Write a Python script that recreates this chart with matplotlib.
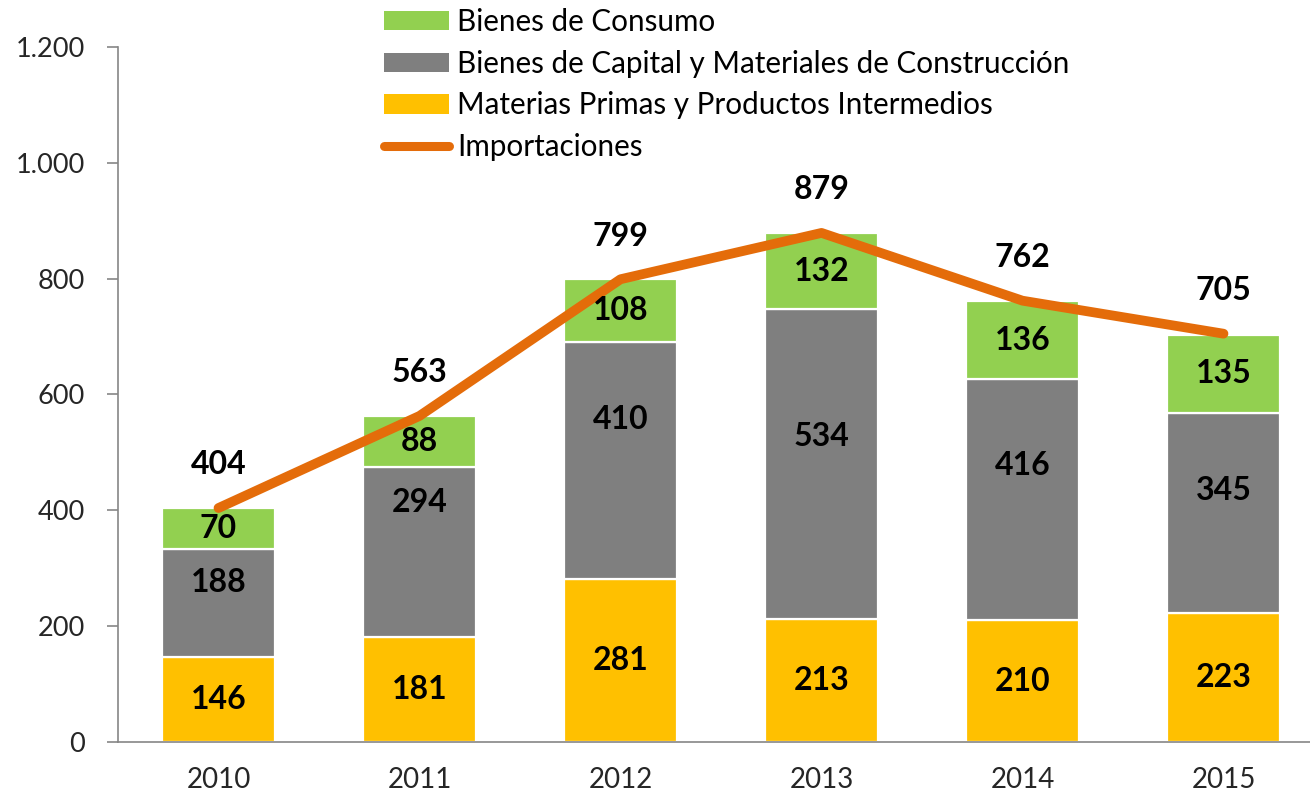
import numpy as np
import matplotlib.pyplot as plt
from matplotlib.patches import Patch
from matplotlib.lines import Line2D

plt.rcParams['font.family'] = ['Lato', 'DejaVu Sans']

# Data (millones)
years = ['2010', '2011', '2012', '2013', '2014', '2015']
materias_primas = [146, 181, 281, 213, 210, 223]
bienes_capital = [188, 294, 410, 534, 416, 345]
bienes_consumo = [70, 88, 108, 132, 136, 135]
importaciones = [404, 563, 799, 879, 762, 705]

labels = ['Bienes de Consumo',
          'Bienes de Capital y Materiales de Construcción',
          'Materias Primas y Productos Intermedios',
          'Importaciones']

# label heights for the grey segment (moved up by hand in the original)
gray_label_y = [275, 413, 556, 528, 478, 435]

c_yellow = '#FFC000'
c_gray = '#7F7F7F'
c_green = '#92D050'
c_orange = '#E46C0A'

fig = plt.figure(figsize=(13.10, 7.98), dpi=100)
ax = fig.add_axes([118 / 1310, 56 / 798, 1206 / 1310, 695 / 798])

x = np.arange(len(years))
w = 0.56
mp = np.array(materias_primas)
bc = np.array(bienes_capital)
bs = np.array(bienes_consumo)

ax.bar(x, mp, w, color=c_yellow, edgecolor='white', linewidth=1.6, zorder=2)
ax.bar(x, bc, w, bottom=mp, color=c_gray, edgecolor='white', linewidth=1.6, zorder=2)
ax.bar(x, bs, w, bottom=mp + bc, color=c_green, edgecolor='white', linewidth=1.6, zorder=2)

ax.plot(x, importaciones, color=c_orange, lw=7, solid_capstyle='round',
        solid_joinstyle='round', zorder=3)

lab_kw = dict(ha='center', va='center', fontsize=23, fontweight='bold',
              color='black', zorder=5)
for i in range(len(years)):
    ax.text(x[i], mp[i] / 2, str(mp[i]), **lab_kw)
    ax.text(x[i], gray_label_y[i], str(bc[i]), **lab_kw)
    ax.text(x[i], mp[i] + bc[i] + bs[i] / 2, str(bs[i]), **lab_kw)
    ax.annotate(str(importaciones[i]), (x[i], importaciones[i]),
                xytext=(0, 31), textcoords='offset points', **lab_kw)

ax.set_xlim(-0.5, 5.5)
ax.set_ylim(0, 1200)
ax.set_yticks(range(0, 1201, 200))
ax.set_yticklabels(['0', '200', '400', '600', '800', '1.000', '1.200'])
ax.set_xticks(x)
ax.set_xticklabels(years)

for s in ['top', 'right']:
    ax.spines[s].set_visible(False)
for s in ['left', 'bottom']:
    ax.spines[s].set_color('#868686')
    ax.spines[s].set_linewidth(1.2)
ax.tick_params(axis='y', length=8, width=1.2, color='#868686', pad=16,
               labelsize=19.5, labelcolor='#262626')
ax.tick_params(axis='x', length=0, pad=18, labelsize=20, labelcolor='#262626')

handles = [Patch(facecolor=c_green), Patch(facecolor=c_gray),
           Patch(facecolor=c_yellow),
           Line2D([], [], color=c_orange, lw=6.5, solid_capstyle='round')]
fig.legend(handles, labels, loc='upper left', bbox_to_anchor=(366 / 1310, 1.012),
           frameon=False, fontsize=21.3, handlelength=2.2, handleheight=0.62,
           handletextpad=0.28, labelspacing=0.46, borderaxespad=0.2)

fig.savefig('out.png', dpi=100)
plt.close()
